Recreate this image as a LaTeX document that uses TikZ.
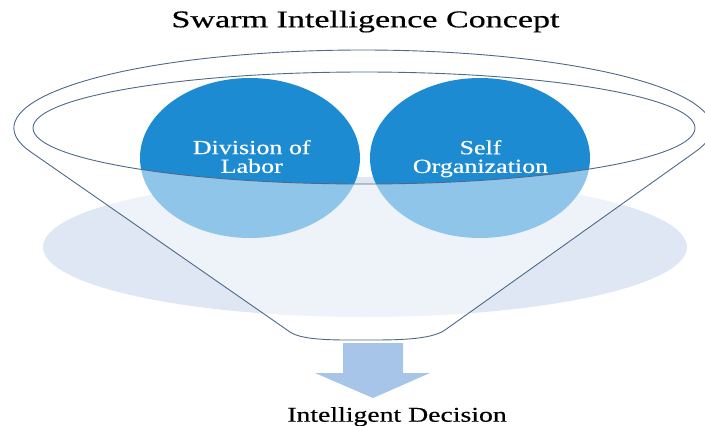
\documentclass[tikz,border=0pt]{standalone}
\usepackage{fontspec}
\setmainfont{Liberation Serif}
\newfontfamily\heavyserif{Liberation Serif}[FakeBold=0.4]

\definecolor{bandblue}{RGB}{222,231,243}
\definecolor{ballblue}{RGB}{29,139,210}
\definecolor{rimline}{RGB}{80,105,135}
\definecolor{arrowblue}{RGB}{166,197,232}

\begin{document}
\begin{tikzpicture}[x=1pt, y=-1pt,
  rim/.style = {draw=rimline, line width=0.9pt},
  balltext/.style = {text=white, align=center, xscale=1.3,
                     font=\heavyserif\fontsize{20}{18.7}\selectfont},
  caption/.style = {anchor=base, font=\heavyserif\fontsize{22}{26}\selectfont}]
\useasboundingbox (0,0) rectangle (705,426);

% Title
\node[caption, xscale=1.42, font=\heavyserif\fontsize{24}{28}\selectfont] (title) at (365.5,27.3) {Swarm Intelligence Concept};

% Shadow band under the funnel
\fill[bandblue] (365,247) ellipse[x radius=322, y radius=70];

% The two balls
\coordinate (labor) at (250,158);
\coordinate (selforg) at (480,158);
\fill[ballblue] (labor) ellipse[x radius=110, y radius=80];
\fill[ballblue] (selforg) ellipse[x radius=110, y radius=80];

% Funnel: outer rim with the sides, inner rim, glass between them
\coordinate (L) at (30.7,151.9);
\coordinate (BL) at (290,332);
\coordinate (BR) at (445,330);
\coordinate (spout) at (368,340);
\path[rim, fill=white, fill opacity=0.5, even odd rule]
  (BL) -- (L) arc[start angle=162.17, end angle=377.44, x radius=349, y radius=78]
  -- (BR) .. controls (431,340) and (395,340) .. (spout)
  .. controls (340,340) and (303,341) .. (BL) -- cycle
  (364,128) ellipse[x radius=331, y radius=56];

% Ball labels
\node[balltext] (labortext) at (251.7,156.5) {Division of\\Labor};
\node[balltext] (selforgtext) at (480.5,158.7) {Self\\Organization};

% Output arrow and result
\fill[arrowblue] (343,343) -- (403,343) -- (403,373) -- (430,373)
  -- (373,398) -- (315,373) -- (343,373) -- cycle;
\node[caption, xscale=1.32, font=\heavyserif\fontsize{21}{25}\selectfont] (decision) at (397,421.7) {Intelligent Decision};

\end{tikzpicture}
\end{document}
